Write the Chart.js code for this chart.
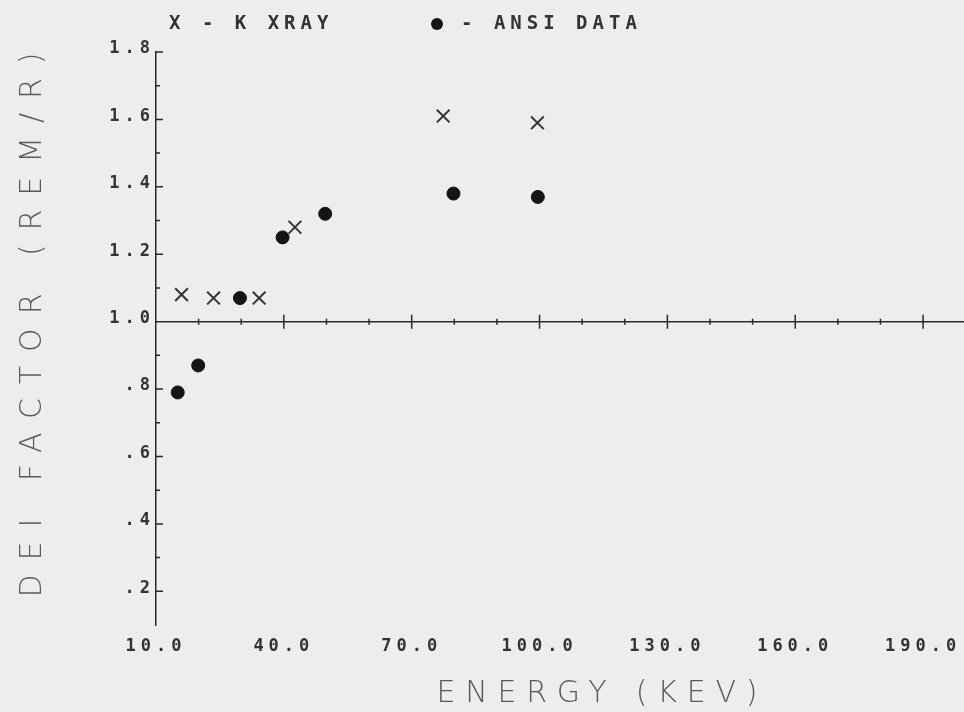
<!DOCTYPE html>
<html>
<head>
<meta charset="utf-8">
<script src="https://cdn.jsdelivr.net/npm/chart.js@4"></script>
<style>
  html, body { margin: 0; padding: 0; background: #ededeb; }
  canvas { display: block; }
</style>
</head>
<body>
<canvas id="deiChart" width="964" height="712"></canvas>
<script>
// values
const xrayEnergy = [16.0, 23.5, 34.2, 42.6, 77.4, 99.5];
const xrayFactor = [1.08, 1.07, 1.07, 1.28, 1.61, 1.59];
const ansiEnergy = [15.1, 19.9, 29.7, 39.7, 49.7, 79.8, 99.6];
const ansiFactor = [0.79, 0.87, 1.07, 1.25, 1.32, 1.38, 1.37];
const xTickLabels = [10, 40, 70, 100, 130, 160, 190];
const yTickLabels = [0.2, 0.4, 0.6, 0.8, 1.0, 1.2, 1.4, 1.6, 1.8];

const BG = "#ededeb";
const INK = "#2a2a2a";
const TEXT = "#333333";
const TITLE = "#5a5a5a";

// spread a string out so it covers a given width
function spacedText(c, text, cx, cy, width) {
  c.letterSpacing = "0px";
  const w = c.measureText(text).width;
  c.letterSpacing = ((width - w) / (text.length - 1)) + "px";
  c.textAlign = "left";
  c.fillText(text, cx - width / 2, cy);
  c.letterSpacing = "0px";
}

const plotter = {
  id: "plotter",
  beforeDraw(chart) {
    const c = chart.ctx;
    c.save();
    c.fillStyle = BG;
    c.fillRect(0, 0, chart.width, chart.height);
    c.restore();
    c.letterSpacing = "5px"; // tick labels
  },
  beforeDatasetsDraw(chart) {
    chart.ctx.letterSpacing = "0px";
  },
  afterDraw(chart) {
    const c = chart.ctx, x = chart.scales.x, y = chart.scales.y;
    c.save();
    c.strokeStyle = INK;
    c.lineWidth = 1.5;

    // the 1.0 line acts as the energy axis
    const y1 = y.getPixelForValue(1.0);
    c.beginPath();
    c.moveTo(x.left, y1);
    c.lineTo(chart.width, y1);
    for (let v = 20; v <= x.max; v += 10) {
      const px = x.getPixelForValue(v);
      const half = (v - 10) % 30 === 0 ? 7 : 3;
      c.moveTo(px, y1 - half);
      c.lineTo(px, y1 + half);
    }
    // y tick stubs, inside
    for (let k = 2; k <= 18; k++) {
      const py = y.getPixelForValue(k / 10);
      const len = k % 2 === 0 ? 7 : 4;
      c.moveTo(x.left, py);
      c.lineTo(x.left + len, py);
    }
    c.stroke();

    // legend
    const ds = chart.data.datasets;
    c.fillStyle = TEXT;
    c.font = "bold 19px 'DejaVu Sans Mono'";
    c.textBaseline = "middle";
    c.textAlign = "left";
    c.letterSpacing = "5px";
    c.fillText("X - " + ds[0].label, 169, 24);
    c.fillText("- " + ds[1].label, 461, 24);
    c.letterSpacing = "0px";
    c.fillStyle = "#151515";
    c.beginPath();
    c.arc(437, 24, 6, 0, Math.PI * 2);
    c.fill();

    // axis titles
    c.fillStyle = TITLE;
    c.font = "200 30px 'DejaVu Sans'";
    spacedText(c, "ENERGY (KEV)", 597, 694, 321);
    c.translate(33, 325);
    c.rotate(-Math.PI / 2);
    spacedText(c, "DEI FACTOR (REM/R)", 0, 0, 545);
    c.restore();
  }
};

const chart = new Chart(document.getElementById("deiChart"), {
  type: "scatter",
  data: {
    datasets: [{
      label: "K XRAY",
      data: xrayEnergy.map((e, i) => ({ x: e, y: xrayFactor[i] })),
      pointStyle: "crossRot",
      radius: 9,
      borderWidth: 2,
      borderColor: "#333333",
      backgroundColor: "#333333"
    }, {
      label: "ANSI DATA",
      data: ansiEnergy.map((e, i) => ({ x: e, y: ansiFactor[i] })),
      pointStyle: "circle",
      radius: 6.5,
      borderWidth: 1,
      borderColor: "#151515",
      backgroundColor: "#151515"
    }]
  },
  options: {
    responsive: false,
    animation: false,
    layout: { autoPadding: false, padding: { top: 52, left: 0, right: 0, bottom: 0 } },
    plugins: { legend: { display: false }, tooltip: { enabled: false } },
    scales: {
      x: {
        type: "linear",
        min: 10,
        max: 199.6,
        border: { display: false },
        grid: { display: false, drawTicks: false },
        afterBuildTicks: s => { s.ticks = xTickLabels.map(v => ({ value: v })); },
        afterFit: s => { s.height = 87; s.paddingLeft = 0; s.paddingRight = 0; },
        ticks: {
          autoSkip: false,
          maxRotation: 0,
          padding: 11,
          color: TEXT,
          font: { family: "'DejaVu Sans Mono'", size: 17, weight: "bold" },
          callback: v => v.toFixed(1)
        }
      },
      y: {
        min: 0.1,
        max: 1.8,
        border: { display: true, color: INK, width: 1.5 },
        grid: { display: false, drawTicks: false },
        afterBuildTicks: s => { s.ticks = yTickLabels.map(v => ({ value: v })); },
        afterFit: s => { s.width = 156; s.paddingTop = 0; s.paddingBottom = 0; },
        ticks: {
          autoSkip: false,
          padding: 1,
          labelOffset: -3,
          color: TEXT,
          font: { family: "'DejaVu Sans Mono'", size: 17, weight: "bold" },
          callback: v => v >= 1 ? v.toFixed(1) : v.toFixed(1).slice(1)
        }
      }
    }
  },
  plugins: [plotter]
});
</script>
</body>
</html>
